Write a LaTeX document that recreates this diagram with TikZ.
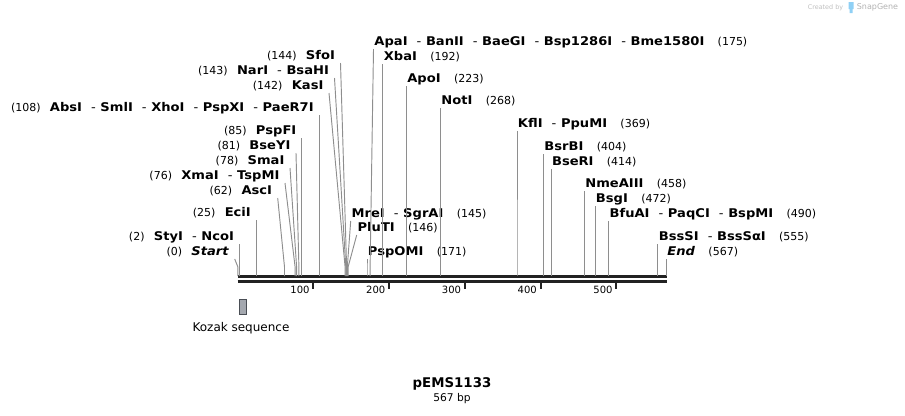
\documentclass[tikz,border=0pt]{standalone}
\usepackage{fontspec}
\setmainfont{DejaVu Sans}
\newfontfamily\enzfont{DejaVu Sans}[FakeStretch=1.09]
\usetikzlibrary{positioning}
\definecolor{cutgray}{HTML}{8E8E8E}
\definecolor{barblack}{HTML}{222222}
\definecolor{kozakfill}{HTML}{A4A8AF}
\definecolor{kozakdraw}{HTML}{4A4E55}
\definecolor{snapblue}{HTML}{8FD0F5}
\newcommand{\enzsep}{\ \ \textmd{-}\ }
\newcommand{\posl}[1]{{\normalfont\fontsize{8.25}{10}\selectfont(#1)}\hspace{7pt}}
\newcommand{\posr}[1]{\hspace{10pt}{\normalfont\fontsize{8.25}{10}\selectfont(#1)}}
\tikzset{
  cut/.style={draw=cutgray, line width=0.7pt, to path={-- ++(0,-9) -- (\tikztotarget)}},
  enzl/.style={anchor=south east, inner xsep=4pt, inner ysep=2.2pt, text depth=0pt,
    font=\enzfont\fontsize{9}{11}\selectfont\bfseries},
  enzr/.style={anchor=south west, inner xsep=0.5pt, inner ysep=2.2pt, text depth=0pt,
    font=\enzfont\fontsize{9}{11}\selectfont\bfseries},
  ticklbl/.style={anchor=east, inner sep=0pt, font=\fontsize{7.5}{9}\selectfont},
}
\begin{document}
\begin{tikzpicture}[x=0.75pt,y=-0.75pt]
    \useasboundingbox (0,0) rectangle (905,415);
    % sequence
    \coordinate (seqstart) at (237.5,276.5);
    \coordinate (seqend) at (667,276.5);
    \draw[barblack, line width=2pt] (seqstart) -- (seqend);
    \draw[barblack, line width=2.2pt] ([yshift=-3.6pt]seqstart) -- ([yshift=-3.6pt]seqend);
    \foreach \t/\x in {100/313.25,200/389,300/464.75,400/540.5,500/616.25}{
      \draw[barblack, line width=1.5pt] (\x,281) -- (\x,288.5);
      \node[ticklbl] (tick\t) at (\x-3.5,289.5) {\t};
    }
    % cut sites
    \coordinate (s0) at (237.9,276);
    \coordinate (s2) at (239.5,276);
    \coordinate (s25) at (256.4,276);
    \coordinate (s62) at (284.5,276);
    \coordinate (s76) at (295.1,276);
    \coordinate (s78) at (296.6,276);
    \coordinate (s81) at (298.9,276);
    \coordinate (s85) at (301.9,276);
    \coordinate (s108) at (319.3,276);
    \coordinate (s142) at (345.1,276);
    \coordinate (s143) at (345.8,276);
    \coordinate (s144) at (346.6,276);
    \coordinate (s145) at (347.3,276);
    \coordinate (s146) at (348.1,276);
    \coordinate (s171) at (367,276);
    \coordinate (s175) at (370.1,276);
    \coordinate (s192) at (382.9,276);
    \coordinate (s223) at (406.4,276);
    \coordinate (s268) at (440.5,276);
    \coordinate (s369) at (517,276);
    \coordinate (s404) at (543.5,276);
    \coordinate (s414) at (551.1,276);
    \coordinate (s458) at (584.4,276);
    \coordinate (s472) at (595,276);
    \coordinate (s490) at (608.7,276);
    \coordinate (s555) at (657.9,276);
    \coordinate (s567) at (666.5,276);
    % labels left of their line
    \node[enzl] (e0) at (234.7,259) {\posl{0}\textit{Start}};
    \node[enzl] (e2) at (239.5,244) {\posl{2}StyI\enzsep NcoI};
    \node[enzl] (e25) at (256.4,220) {\posl{25}EciI};
    \node[enzl] (e62) at (277.7,198) {\posl{62}AscI};
    \node[enzl] (e76) at (285,183) {\posl{76}XmaI\enzsep TspMI};
    \node[enzl] (e78) at (290,168) {\posl{78}SmaI};
    \node[enzl] (e81) at (296,153) {\posl{81}BseYI};
    \node[enzl] (e85) at (301.9,138) {\posl{85}PspFI};
    \node[enzl] (e108) at (319.3,115) {\posl{108}AbsI\enzsep SmlI\enzsep XhoI\enzsep PspXI\enzsep PaeR7I};
    \node[enzl] (e142) at (329,93) {\posl{142}KasI};
    \node[enzl] (e143) at (334.5,78) {\posl{143}NarI\enzsep BsaHI};
    \node[enzl] (e144) at (340.5,63) {\posl{144}SfoI};
    % labels right of their line
    \node[enzr] (e145) at (350.7,221) {MreI\enzsep SgrAI\posr{145}};
    \node[enzr] (e146) at (356.7,235) {PluTI\posr{146}};
    \node[enzr] (e171) at (367,259) {PspOMI\posr{171}};
    \node[enzr] (e175) at (373.5,49) {ApaI\enzsep BanII\enzsep BaeGI\enzsep Bsp1286I\enzsep Bme1580I\posr{175}};
    \node[enzr] (e192) at (382.9,64) {XbaI\posr{192}};
    \node[enzr] (e223) at (406.4,86) {ApoI\posr{223}};
    \node[enzr] (e268) at (440.5,108) {NotI\posr{268}};
    \node[enzr] (e369) at (517,131) {KflI\enzsep PpuMI\posr{369}};
    \node[enzr] (e404) at (543.5,154) {BsrBI\posr{404}};
    \node[enzr] (e414) at (551.1,169) {BseRI\posr{414}};
    \node[enzr] (e458) at (584.4,191) {NmeAIII\posr{458}};
    \node[enzr] (e472) at (595,206) {BsgI\posr{472}};
    \node[enzr] (e490) at (608.7,221) {BfuAI\enzsep PaqCI\enzsep BspMI\posr{490}};
    \node[enzr] (e555) at (657.9,244) {BssSI\enzsep BssSαI\posr{555}};
    \node[enzr] (e567) at (666.5,259) {\textit{End}\posr{567}};
    \foreach \n in {0,2,25,62,76,78,81,85,108,142,143,144}
      \draw[cut] (s\n) to (e\n.south east);
    \foreach \n in {145,146,171,175,192,223,268,369,404,414,458,472,490,555,567}
      \draw[cut] (s\n) to (e\n.south west);
    % features
    \node[draw=kozakdraw, fill=kozakfill, line width=0.6pt, minimum width=5.2pt, minimum height=11.4pt, inner sep=0pt] (kozak) at (243,307.2) {};
    \node[font=\fontsize{9}{11}\selectfont] (kozaklbl) at (241,328) {Kozak sequence};
    \node[font=\fontsize{10}{12}\selectfont\bfseries] (title) at (452,383.5) {pEMS1133};
    \node[font=\fontsize{8}{10}\selectfont] (length) at (452,399) {567 bp};
    % watermark
    \node[text=gray!50, font=\fontsize{4.8}{6}\selectfont, inner sep=0pt] (createdby) at (825.5,7.5) {Created by};
    \fill[snapblue] (848.5,2) rectangle (853.5,9) (849.5,9) rectangle (852.5,13);
    \node[text=gray!60, font=\fontsize{6}{7}\selectfont, inner sep=0pt] (snapgene) at (877.5,7.5) {SnapGene};
\end{tikzpicture}
\end{document}
